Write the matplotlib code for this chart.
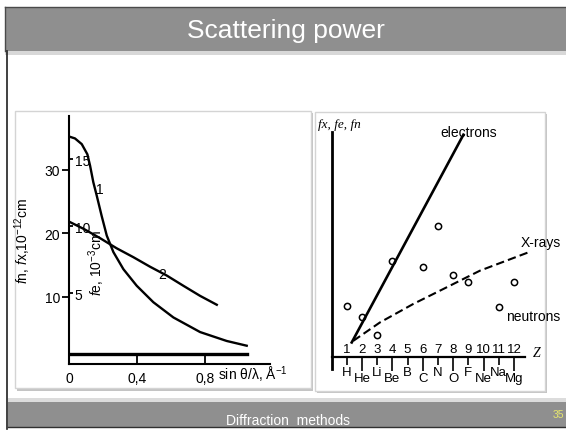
import matplotlib
matplotlib.use("Agg")
import matplotlib.pyplot as plt
from matplotlib.patches import Rectangle
from matplotlib import font_manager

W, H = 566, 431

# left panel: scattering amplitude against sin(theta)/lambda
s_curve1 = [0, 0.035, 0.075, 0.108, 0.124, 0.143, 0.163, 0.192, 0.222, 0.261,
            0.32, 0.398, 0.496, 0.614, 0.771, 0.927, 1.045]
f_curve1 = [35.2, 34.9, 34.0, 32.4, 30.6, 28.0, 25.9, 22.7, 19.6, 17.0,
            14.3, 11.7, 9.1, 6.7, 4.4, 3.0, 2.25]
s_curve2 = [0, 0.09, 0.182, 0.28, 0.378, 0.476, 0.575, 0.672, 0.771, 0.869]
f_curve2 = [21.8, 20.6, 19.2, 17.6, 16.2, 14.7, 13.3, 11.7, 10.1, 8.7]
s_neutron = [0, 1.045]
f_neutron = [0.95, 0.95]
left_xticks = [0, 0.4, 0.8]
left_xlabels = ["0", "0,4", "0,8"]
left_yticks = [10, 20, 30]
fe_ticks = [5, 10, 15]

# right panel: scattering power against Z
z_electrons = [1.33, 8.68]
y_electrons = [0.65, 9.88]
z_xrays = [1.43, 3.19, 5.38, 7.58, 9.77, 13.06]
y_xrays = [0.72, 1.54, 2.36, 3.10, 3.84, 4.68]
z_neutrons = [1, 2, 3, 4, 6, 7, 8, 9, 11, 12]
y_neutrons = [2.28, 1.76, 0.99, 4.28, 3.99, 5.84, 3.66, 3.32, 2.21, 3.35]
z_numbers = list(range(1, 13))
elements = ["H", "He", "Li", "Be", "B", "C", "N", "O", "F", "Ne", "Na", "Mg"]

names = {f.name for f in font_manager.fontManager.ttflist}
NARROW = "Liberation Sans Narrow" if "Liberation Sans Narrow" in names else "Liberation Sans"

plt.rcParams["font.family"] = [NARROW, "DejaVu Sans"]
plt.rcParams["mathtext.fontset"] = "custom"
plt.rcParams["mathtext.rm"] = NARROW
plt.rcParams["mathtext.it"] = NARROW + ":italic"


def px_rect(x0, y0, x1, y1):
    return [x0 / W, 1 - y1 / H, (x1 - x0) / W, (y1 - y0) / H]


fig = plt.figure(figsize=(W / 100, H / 100), dpi=100)
fig.patch.set_facecolor("white")

# slide decorations, drawn in pixel coordinates
bg = fig.add_axes([0, 0, 1, 1], zorder=-5)
bg.set_xlim(0, W)
bg.set_ylim(H, 0)
bg.axis("off")
bg.add_patch(Rectangle((5, 52), 561, 4, fc="#d8d8d8", ec="none"))
bg.add_patch(Rectangle((5, 8), 561, 44, fc="#8f8f8f", ec="none"))
bg.plot([5, 566], [8, 8], color="#4a4a4a", lw=1)
bg.plot([5, 5], [8, 52], color="#4a4a4a", lw=1)
bg.text(286, 31, "Scattering power", color="white", fontsize=19,
        family="Liberation Sans", ha="center", va="center")
bg.plot([7, 7], [52, 430], color="#202020", lw=1.2)

bg.add_patch(Rectangle((8, 399), 558, 4, fc="#dcdcdc", ec="none"))
bg.add_patch(Rectangle((8, 403), 558, 25, fc="#8f8f8f", ec="none"))
bg.plot([8, 566], [428.5, 428.5], color="#303030", lw=1)
bg.text(288, 421, "Diffraction  methods", color="white", fontsize=10,
        family="Liberation Sans", ha="center", va="center")
bg.text(558, 415, "35", color="#e6e66e", fontsize=7.5,
        family="Liberation Sans", ha="center", va="center")

# panel boxes with shadow
bg.add_patch(Rectangle((17, 114), 296, 278, fc="#c4c4c4", ec="none"))
bg.add_patch(Rectangle((15, 112), 296, 277, fc="white", ec="#d4d4d4", lw=1))
bg.add_patch(Rectangle((317, 115), 230, 279, fc="#c4c4c4", ec="none"))
bg.add_patch(Rectangle((315, 113), 230, 279, fc="white", ec="#d4d4d4", lw=1))

# ---- left panel ----
axL = fig.add_axes(px_rect(69, 117, 270, 365))
axL.patch.set_alpha(0)
axL.set_xlim(0, 1.182)
axL.set_ylim(-0.63, 38.43)
for side in ["top", "right"]:
    axL.spines[side].set_visible(False)
for side in ["left", "bottom"]:
    axL.spines[side].set_linewidth(1.5)

axL.plot(s_curve1, f_curve1, color="black", lw=1.7)
axL.plot(s_curve2, f_curve2, color="black", lw=1.7)
axL.plot(s_neutron, f_neutron, color="black", lw=2.4)

axL.set_xticks(left_xticks)
axL.set_xticklabels(left_xlabels)
axL.tick_params(axis="x", direction="in", length=7.5, width=1.3, pad=5, labelsize=10)
axL.set_yticks(left_yticks)
axL.tick_params(axis="y", direction="out", length=5, width=1.3, pad=1.5, labelsize=10)

sec = axL.secondary_yaxis(0.0, functions=(lambda y: y / 2.11, lambda s: s * 2.11))
sec.set_alignment("right")
for sp in sec.spines.values():
    sp.set_visible(False)
sec.set_yticks(fe_ticks)
sec.tick_params(direction="out", length=3, width=1.3, pad=1, labelsize=10)

axL.set_ylabel(r"$f$n, $f$x,10$^{-12}$cm", fontsize=10)
axL.yaxis.set_label_coords(-0.18, 0.5)
axL.text(0.14, 0.41, r"$f$e, 10$^{-3}$cm", transform=axL.transAxes,
         rotation=90, fontsize=10, ha="center", va="center")
axL.text(0.18, 26.9, "1", fontsize=10, ha="center", va="center")
axL.text(0.55, 13.5, "2", fontsize=10, ha="center", va="center")
axL.text(0.876, -2.2, r"sin θ/λ, Å$^{-1}$", fontsize=10, ha="left", va="center",
         clip_on=False)

# ---- right panel ----
axR = fig.add_axes(px_rect(331.5, 133, 525, 370))
axR.patch.set_alpha(0)
axR.set_xlim(0, 12.73)
axR.set_ylim(-0.53, 10)
for side in ["top", "right"]:
    axR.spines[side].set_visible(False)
axR.spines["bottom"].set_position(("data", 0))
axR.spines["bottom"].set_linewidth(1.6)
axR.spines["left"].set_linewidth(2.0)
axR.set_yticks([])

axR.plot(z_electrons, y_electrons, color="black", lw=1.9)
axR.plot(z_xrays, y_xrays, color="black", lw=1.5, ls="--", dashes=(4, 2), clip_on=False)
axR.plot(z_neutrons, y_neutrons, ls="none", marker="o", ms=4.5, mfc="none",
         mec="black", mew=1.1, clip_on=False)

axR.set_xticks(z_numbers[0::2])
axR.set_xticklabels(elements[0::2])
axR.set_xticks(z_numbers[1::2], minor=True)
axR.set_xticklabels(elements[1::2], minor=True)
axR.tick_params(axis="x", which="major", direction="out", length=6, width=1.2,
                pad=0.5, labelsize=9.5)
axR.tick_params(axis="x", which="minor", direction="out", length=10, width=1.2,
                pad=0.5, labelsize=9.5)

top = axR.secondary_xaxis(0.53 / 10.53)
top.set_alignment("top")
for sp in top.spines.values():
    sp.set_visible(False)
top.set_xticks(z_numbers)
top.tick_params(length=0, pad=1.5, labelsize=9.5)

axR.text(9.0, 10.0, "electrons", fontsize=10, ha="center", va="center")
axR.text(13.8, 5.1, "X-rays", fontsize=10, ha="center", va="center")
axR.text(13.25, 1.83, "neutrons", fontsize=10, ha="center", va="center")
axR.text(13.5, 0.22, "Z", fontsize=10, family="Liberation Serif", style="italic",
         ha="center", va="center")
axR.text(-0.07, 1.034, "fx, fe, fn", transform=axR.transAxes, fontsize=9.5,
         family="Liberation Serif", style="italic", ha="left", va="center")

fig.savefig("out.png", dpi=100)
